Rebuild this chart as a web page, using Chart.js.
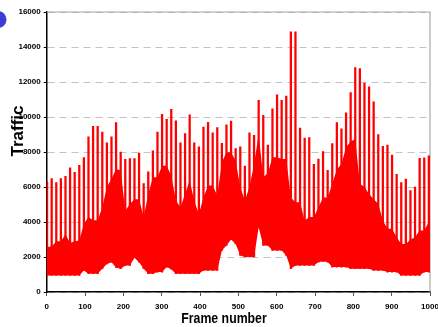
<!DOCTYPE html>
<html>
<head>
  <meta charset="utf-8">
  <title>Traffic</title>
  <script src="https://cdn.jsdelivr.net/npm/chart.js@4.4.1/dist/chart.umd.min.js"></script>
  <style>
    body { margin: 0; background: #fff; }
  </style>
</head>
<body>
  <canvas id="chart-traffic" width="438" height="327"></canvas>
  <script>
    // frame positions of the I-frame spikes (one per GOP)
    var frames = [1, 13, 25, 37, 49, 61, 73, 85, 97, 109, 121, 133, 145, 157, 169, 181, 193, 205, 217, 229, 241,
      253, 265, 277, 289, 301, 313, 325, 337, 349, 361, 373, 385, 397, 409, 421, 433, 445, 457, 469, 481,
      493, 505, 517, 529, 541, 553, 565, 577, 589, 601, 613, 625, 637, 649, 661, 673, 685, 697, 709, 721,
      733, 745, 757, 769, 781, 793, 805, 817, 829, 841, 853, 865, 877, 889, 901, 913, 925, 937, 949, 961,
      973, 985, 997];
    // spike heights
    var peak = [6290, 6480, 6250, 6480, 6610, 7090, 6840, 7240, 7680, 8860, 9470, 9470, 9140, 8520, 8860, 9680, 8000, 7580, 7620, 7620, 7940,
      6200, 6860, 8060, 9140, 10150, 9870, 10440, 9780, 8520, 9050, 10130, 8520, 8290, 9430, 9700, 9100, 9400, 8500, 9550, 9770,
      8200, 8300, 7200, 9100, 8950, 10950, 10100, 8400, 10460, 11270, 10950, 11200, 14860, 14860, 9370, 8800, 8830, 7300, 7600, 8030,
      6950, 8480, 9680, 9330, 10240, 11400, 12820, 12760, 11940, 11720, 10860, 9000, 8330, 8400, 7830, 6730, 6250, 6450, 5800, 6000,
      7640, 7670, 7780];
    // lower edge of the dense band (B frames)
    var bandLow = [950, 950, 950, 950, 950, 950, 950, 950, 1235, 1045, 1045, 1045, 1330, 1600, 1700, 1400, 1330, 1520, 1520, 1960, 1700,
      1330, 1045, 1045, 1140, 1140, 1425, 1300, 1045, 1045, 1045, 1045, 1045, 1045, 1235, 1235, 1235, 1235, 2375, 2660, 3000,
      2750, 2090, 2000, 2000, 2000, 3700, 2660, 2660, 2375, 2375, 2375, 2090, 1330, 1520, 1520, 1520, 1520, 1520, 1710, 1750,
      1710, 1425, 1425, 1425, 1425, 1330, 1330, 1330, 1330, 1330, 1235, 1235, 1235, 1140, 1140, 1140, 950, 950, 950, 950,
      950, 1140, 1140];
    // upper edge of the dense band (P frames)
    var bandHigh = [2570, 2600, 2900, 2900, 3300, 2800, 2900, 2950, 3900, 4280, 4100, 4100, 4850, 6000, 6460, 7030, 6940, 4650, 5030, 5300, 5300,
      4280, 5600, 6560, 6560, 7220, 7220, 6650, 5225, 4850, 5600, 6370, 5200, 4460, 5400, 6080, 6080, 5510, 7410, 7980, 7980,
      7500, 6000, 5225, 6000, 7320, 9000, 6560, 6800, 7700, 7700, 7600, 7600, 5400, 5130, 5130, 4090, 4280, 4280, 4850, 5400,
      5400, 6180, 7000, 7320, 8265, 8600, 8740, 6180, 6000, 5600, 5300, 5040, 4090, 3610, 3610, 3135, 2750, 2750, 3000, 3135,
      3515, 3515, 4000];
    var xTicks = [0, 100, 200, 300, 400, 500, 600, 700, 800, 900, 1000];
    var yTicks = [0, 2000, 4000, 6000, 8000, 10000, 12000, 14000, 16000];

    var red = '#ff0000';

    var lowPts = frames.map(function (f, i) { return { x: f, y: bandLow[i] }; });
    var highPts = frames.map(function (f, i) { return { x: f, y: bandHigh[i] }; });
    var spikePts = frames.map(function (f, i) { return { x: f, y: [bandLow[i], peak[i]] }; });

    // titles, frame and the blue label mark
    var decor = {
      id: 'decor',
      beforeDatasetsDraw: function (chart) {
        var a = chart.chartArea, ctx = chart.ctx;
        ctx.save();
        ctx.strokeStyle = '#a8a8a8';
        ctx.lineWidth = 1.2;
        ctx.beginPath();
        ctx.moveTo(a.left, a.top);
        ctx.lineTo(a.right, a.top);
        ctx.lineTo(a.right, a.bottom);
        ctx.stroke();
        ctx.restore();
      },
      afterDraw: function (chart) {
        var ctx = chart.ctx;
        ctx.save();
        ctx.fillStyle = '#3c3cd6';
        ctx.beginPath();
        ctx.arc(-2, 19.5, 8.5, 0, Math.PI * 2);
        ctx.fill();

        ctx.fillStyle = '#000';
        ctx.textAlign = 'center';
        ctx.textBaseline = 'middle';
        // x title is a narrow face in the original
        ctx.save();
        ctx.translate(224, 319);
        ctx.scale(0.82, 1);
        ctx.font = 'bold 15px "Liberation Sans", Arial';
        ctx.fillText('Frame number', 0, 0);
        ctx.restore();

        ctx.translate(18, 131);
        ctx.rotate(-Math.PI / 2);
        ctx.font = 'bold 17px "Liberation Sans", Arial';
        ctx.fillText('Traffic', 0, 0);
        ctx.restore();
      }
    };

    new Chart(document.getElementById('chart-traffic'), {
      type: 'bar',
      data: {
        datasets: [{
          type: 'line',
          data: lowPts,
          borderWidth: 0,
          pointRadius: 0,
          fill: false,
          order: 2
        }, {
          type: 'line',
          data: highPts,
          borderWidth: 0,
          pointRadius: 0,
          backgroundColor: red,
          fill: '-1',
          order: 2
        }, {
          type: 'bar',
          data: spikePts,
          backgroundColor: red,
          barThickness: 1.6,
          order: 1
        }]
      },
      options: {
        responsive: false,
        animation: false,
        layout: { padding: { top: 12, right: 8, left: 0, bottom: 0 } },
        plugins: {
          legend: { display: false },
          tooltip: { enabled: false }
        },
        scales: {
          x: {
            type: 'linear',
            min: 0,
            max: 1000,
            offset: false,
            afterFit: function (s) { s.height = 35; s.paddingLeft = 0; s.paddingRight = 0; },
            afterBuildTicks: function (s) { s.ticks = xTicks.map(function (v) { return { value: v }; }); },
            grid: { drawOnChartArea: false, offset: false, tickLength: 4, color: '#555', lineWidth: 1 },
            border: { color: '#000', width: 1.5 },
            ticks: {
              padding: 6,
              maxRotation: 0,
              color: '#000',
              font: { family: '"Liberation Sans", Arial', weight: 'bold', size: 8 },
              callback: function (v) { return String(v); }
            }
          },
          y: {
            min: 0,
            max: 16000,
            afterFit: function (s) { s.width = 46.7; },
            afterBuildTicks: function (s) { s.ticks = yTicks.map(function (v) { return { value: v }; }); },
            grid: {
              color: '#c4c4c4',
              lineWidth: 1,
              tickLength: 3,
              tickColor: '#000',
              tickBorderDash: []
            },
            border: { color: '#000', width: 1.5, dash: [7, 5] },
            ticks: {
              padding: 3,
              color: '#000',
              font: { family: '"Liberation Sans", Arial', weight: 'bold', size: 8 },
              callback: function (v) { return String(v); }
            }
          }
        }
      },
      plugins: [decor]
    });
  </script>
</body>
</html>
